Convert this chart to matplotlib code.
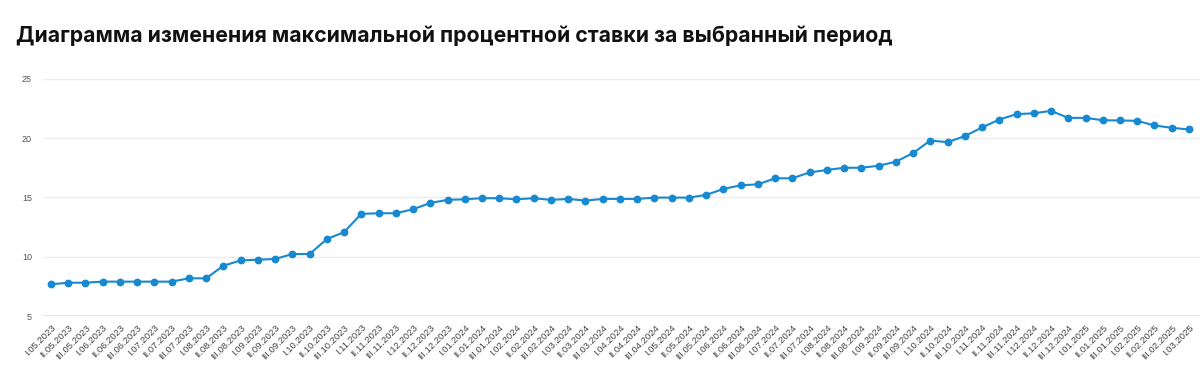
import matplotlib
matplotlib.use("Agg")
import matplotlib.pyplot as plt

months = ["05.2023", "06.2023", "07.2023", "08.2023", "09.2023", "10.2023", "11.2023",
          "12.2023", "01.2024", "02.2024", "03.2024", "04.2024", "05.2024", "06.2024",
          "07.2024", "08.2024", "09.2024", "10.2024", "11.2024", "12.2024", "01.2025",
          "02.2025"]
decades = ["I", "II", "III"]
labels = [f"{d}.{m}" for m in months for d in decades] + ["I.03.2025"]

rates = [7.67, 7.81, 7.81, 7.90, 7.90, 7.90, 7.90, 7.90, 8.18, 8.18,
         9.24, 9.69, 9.75, 9.81, 10.23, 10.23, 11.49, 12.08, 13.62, 13.67,
         13.67, 14.01, 14.54, 14.80, 14.85, 14.94, 14.94, 14.85, 14.94, 14.80,
         14.88, 14.74, 14.88, 14.88, 14.88, 14.99, 14.99, 14.99, 15.22, 15.72,
         16.03, 16.11, 16.62, 16.62, 17.12, 17.32, 17.51, 17.51, 17.68, 18.02,
         18.75, 19.81, 19.67, 20.18, 20.91, 21.58, 22.03, 22.11, 22.31, 21.72,
         21.72, 21.52, 21.50, 21.47, 21.08, 20.88, 20.74]

yticks = [5, 10, 15, 20, 25]

W, H = 1200, 373
fig = plt.figure(figsize=(W / 100, H / 100), dpi=100)
ax = fig.add_axes([43 / W, 1 - 316 / H, (1200 - 43) / W, (316 - 79) / H])

x = list(range(len(labels)))
ax.plot(x, rates, color="#1689d0", lw=1.5, marker="o", ms=4.6, clip_on=False, zorder=3)

ax.set_xlim(-0.46, 66.64)
ax.set_ylim(5, 25)
ax.set_yticks(yticks)
ax.set_yticklabels([str(v) for v in yticks], fontsize=6.5, color="#555555", family="Liberation Sans")
ax.set_xticks(x)
ax.set_xticklabels(labels, rotation=45, ha="right", rotation_mode="anchor",
                   fontsize=6.8, color="#444444", family="Liberation Sans")
ax.tick_params(axis="both", length=0, pad=8)
ax.tick_params(axis="x", pad=5)
for s in ax.spines.values():
    s.set_visible(False)
ax.grid(axis="y", color="#ececec", lw=1)
ax.axhline(5, color="#dde3f2", lw=1.2, zorder=1)

fig.text(16 / W, 1 - 42 / H, "Диаграмма изменения максимальной процентной ставки за выбранный период",
         fontsize=15.3, fontweight="bold", family="Inter", color="#111111", va="baseline")

fig.savefig("out.png", dpi=100, facecolor="white")
